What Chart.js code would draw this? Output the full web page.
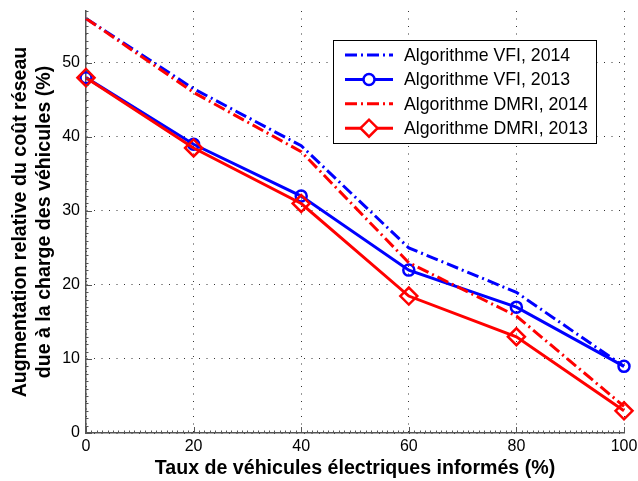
<!DOCTYPE html>
<html>
<head>
<meta charset="utf-8">
<script src="https://cdn.jsdelivr.net/npm/chart.js@4/dist/chart.umd.min.js"></script>
<style>
  html, body { margin: 0; padding: 0; background: #fff; }
  #wrap { width: 638px; height: 481px; }
</style>
</head>
<body>
<div id="wrap"><canvas id="myChart"></canvas></div>
<script>
// données
var taux = [0, 20, 40, 60, 80, 100];
var vfi2014 = [56, 46.5, 38.8, 25, 19, 9];
var vfi2013 = [48, 39, 32, 22, 17, 9];
var dmri2014 = [56, 46, 38, 23, 15.8, 3.6];
var dmri2013 = [48, 38.5, 31, 18.5, 13, 3];
var noms = ["Algorithme VFI, 2014", "Algorithme VFI, 2013", "Algorithme DMRI, 2014", "Algorithme DMRI, 2013"];
var yTicks = [0, 10, 20, 30, 40, 50];

var police = "'Liberation Sans', Arial, Helvetica, sans-serif";
var tiret = [12, 4, 2, 4];

function pts(vals) {
  return vals.map(function (v, i) { return { x: taux[i], y: v }; });
}

// petites graduations + légende façon matlab
var matlabDeco = {
  id: 'matlabDeco',
  afterDatasetsDraw: function (chart) {
    var ctx = chart.ctx, xs = chart.scales.x, ys = chart.scales.y;
    var a = chart.chartArea;
    ctx.save();
    ctx.strokeStyle = '#555';
    ctx.lineWidth = 1;
    ctx.beginPath();
    for (var i = 0; i <= 100; i++) {
      var px = Math.round(xs.getPixelForValue(i)) + 0.5;
      var l = (i % 20 === 0) ? 6 : 2.5;
      ctx.moveTo(px, a.bottom); ctx.lineTo(px, a.bottom - l);
    }
    for (var j = 0; j <= 57; j++) {
      var py = Math.round(ys.getPixelForValue(j)) + 0.5;
      var l2 = (j % 10 === 0) ? 6 : 2.5;
      ctx.moveTo(a.left, py); ctx.lineTo(a.left + l2, py);
    }
    ctx.stroke();

    // légende
    var bx = 333.5, by = 40.5, bw = 263, bh = 103;
    ctx.fillStyle = '#fff';
    ctx.fillRect(bx, by, bw, bh);
    ctx.strokeStyle = '#000';
    ctx.lineWidth = 1;
    ctx.strokeRect(bx, by, bw, bh);
    ctx.font = '17.7px ' + police;
    ctx.textBaseline = 'middle';
    chart.data.datasets.forEach(function (ds, k) {
      var cy = 55 + k * 24.4;
      ctx.save();
      ctx.strokeStyle = ds.borderColor;
      ctx.lineWidth = ds.borderWidth;
      ctx.setLineDash(ds.borderDash || []);
      ctx.beginPath();
      ctx.moveTo(345, cy); ctx.lineTo(393, cy);
      ctx.stroke();
      ctx.restore();
      if (ds.pointRadius > 0) {
        ctx.strokeStyle = ds.borderColor;
        ctx.lineWidth = ds.pointBorderWidth;
        ctx.fillStyle = '#fff';
        ctx.beginPath();
        if (ds.pointStyle === 'circle') {
          ctx.arc(369, cy, ds.pointRadius, 0, Math.PI * 2);
        } else {
          var r = ds.pointRadius;
          ctx.moveTo(369 - r, cy); ctx.lineTo(369, cy - r); ctx.lineTo(369 + r, cy); ctx.lineTo(369, cy + r); ctx.closePath();
        }
        ctx.fill();
        ctx.stroke();
      }
      ctx.fillStyle = '#000';
      ctx.fillText(ds.label, 404, cy + 1);
    });
    ctx.restore();
  }
};

var ctx = document.getElementById("myChart");
var myChart = new Chart(ctx, {
  type: 'line',
  data: {
    datasets: [{
      label: noms[0],
      data: pts(vfi2014),
      borderColor: '#0000ff',
      borderWidth: 3,
      borderDash: tiret,
      pointRadius: 0,
      order: 4
    }, {
      label: noms[1],
      data: pts(vfi2013),
      borderColor: '#0000ff',
      borderWidth: 3,
      pointStyle: 'circle',
      pointRadius: 5.5,
      pointBorderWidth: 2.5,
      pointBackgroundColor: 'rgba(255,255,255,0)',
      pointBorderColor: '#0000ff',
      order: 3
    }, {
      label: noms[2],
      data: pts(dmri2014),
      borderColor: '#ff0000',
      borderWidth: 3,
      borderDash: tiret,
      pointRadius: 0,
      order: 2
    }, {
      label: noms[3],
      data: pts(dmri2013),
      borderColor: '#ff0000',
      borderWidth: 3,
      pointStyle: 'rectRot',
      pointRadius: 8.5,
      pointBorderWidth: 2.5,
      pointBackgroundColor: 'rgba(255,255,255,0)',
      pointBorderColor: '#ff0000',
      order: 1
    }]
  },
  options: {
    responsive: true,
    maintainAspectRatio: false,
    animation: false,
    events: [],
    clip: false,
    layout: { padding: { top: 6, right: 14, left: 0, bottom: 0 } },
    plugins: { legend: { display: false }, tooltip: { enabled: false } },
    scales: {
      x: {
        type: 'linear',
        min: 0, max: 100,
        ticks: { stepSize: 20, color: '#000', font: { size: 16, family: police }, padding: 4, maxRotation: 0 },
        grid: { color: '#333', lineWidth: 1, drawTicks: false },
        border: { display: true, color: '#555', width: 1.5, dash: [1, 6.5] },
        title: { display: true, text: 'Taux de véhicules électriques informés (%)', color: '#000',
                 font: { size: 19.6, weight: 'bold', family: police }, padding: { top: 0, bottom: 1 } },
        afterFit: function (s) { s.height = 48; s.paddingLeft = 0; s.paddingRight = 0; }
      },
      y: {
        type: 'linear',
        min: 0, max: 57,
        afterBuildTicks: function (s) { s.ticks = yTicks.map(function (v) { return { value: v }; }); },
        ticks: { color: '#000', font: { size: 16, family: police }, padding: 6 },
        grid: { color: '#333', lineWidth: 1, drawTicks: false },
        border: { display: true, color: '#555', width: 1.5, dash: [1, 6.5] },
        title: { display: true, text: ['Augmentation relative du coût réseau', 'due à la charge des véhicules (%)'],
                 color: '#000', font: { size: 19.6, weight: 'bold', family: police, lineHeight: 1.2 }, padding: { top: 9, bottom: 0 } },
        afterFit: function (s) { s.width = 86; s.paddingTop = 0; s.paddingBottom = 0; }
      }
    }
  },
  plugins: [matlabDeco]
});
</script>
</body>
</html>
